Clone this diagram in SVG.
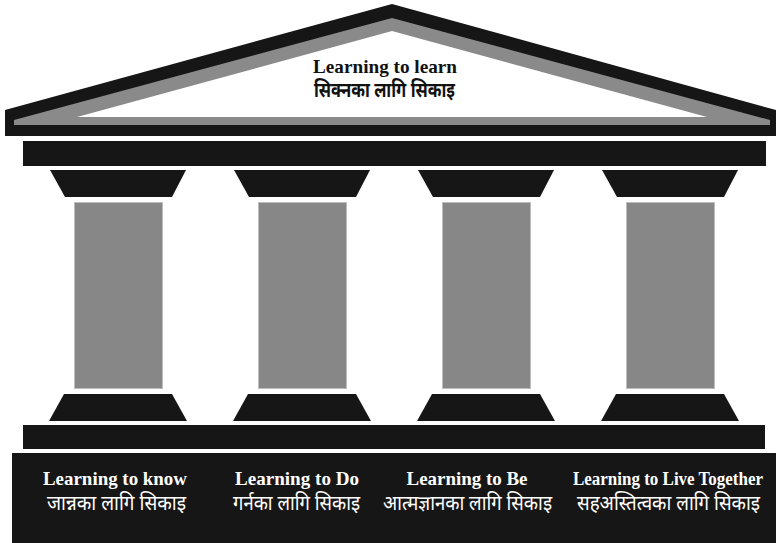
<svg xmlns="http://www.w3.org/2000/svg" xmlns:xlink="http://www.w3.org/1999/xlink" width="776" height="543" viewBox="0 0 776 543">
  <style>
    .blk { fill: #161616; }
    .gry { fill: #8a8a8a; }
    .shaft { fill: #878787; stroke: #bdbdbd; stroke-width: 1; }
    .en { font-family: "Liberation Serif", "Times New Roman", serif; font-weight: bold; font-size: 19px; text-anchor: middle; }
    .dv { font-family: "Noto Sans Devanagari", "Noto Serif Devanagari", "Lohit Devanagari", "Noto Sans", "DejaVu Sans", sans-serif; font-size: 20px; text-anchor: middle; }
    .w { fill: #ffffff; }
    .k { fill: #111111; }
  </style>
  <defs>
    <g id="column">
      <polygon class="blk" points="-68,170 68,170 54,197 -53,197"/>
      <rect class="shaft" x="-43.5" y="202.5" width="88" height="186"/>
      <polygon class="blk" points="-54,394 54,394 69,421 -69,421"/>
    </g>
  </defs>
  <rect width="776" height="543" fill="#ffffff"/>

  <g id="roof">
    <polygon class="blk" points="5,110 392,4 776,110 776,136 5,136"/>
    <polygon class="gry" points="14,120 392,18 770,120 770,125 14,125"/>
    <polygon fill="#ffffff" points="77,117 392,31 707,117"/>
    <text class="en k" x="385" y="73" textLength="144" lengthAdjust="spacingAndGlyphs">Learning to learn</text>
    <text class="dv k" x="384.5" y="97" font-weight="bold" textLength="141" lengthAdjust="spacingAndGlyphs">सिक्नका लागि सिकाइ</text>
  </g>

  <g id="architrave">
    <rect class="blk" x="23" y="141" width="743" height="25"/>
  </g>

  <g id="column1"><use xlink:href="#column" transform="translate(118,0)"/></g>
  <g id="column2"><use xlink:href="#column" transform="translate(302,0)"/></g>
  <g id="column3"><use xlink:href="#column" transform="translate(486,0)"/></g>
  <g id="column4"><use xlink:href="#column" transform="translate(670,0)"/></g>

  <g id="stylobate">
    <rect class="blk" x="23" y="425" width="742" height="24"/>
  </g>

  <g id="foundation">
    <rect class="blk" x="12" y="453" width="764" height="90"/>
  </g>

  <g id="label1">
    <text class="en w" x="115" y="485" textLength="144" lengthAdjust="spacingAndGlyphs">Learning to know</text>
    <text class="dv w" x="116.5" y="510" textLength="139" lengthAdjust="spacingAndGlyphs">जान्नका लागि सिकाइ</text>
  </g>
  <g id="label2">
    <text class="en w" x="297" y="485" textLength="124" lengthAdjust="spacingAndGlyphs">Learning to Do</text>
    <text class="dv w" x="296.5" y="510" textLength="127" lengthAdjust="spacingAndGlyphs">गर्नका लागि सिकाइ</text>
  </g>
  <g id="label3">
    <text class="en w" x="467" y="485" textLength="121" lengthAdjust="spacingAndGlyphs">Learning to Be</text>
    <text class="dv w" x="467.5" y="510" textLength="169" lengthAdjust="spacingAndGlyphs">आत्मज्ञानका लागि सिकाइ</text>
  </g>
  <g id="label4">
    <text class="en w" x="668" y="485" font-size="18" style="font-size:18px" textLength="190" lengthAdjust="spacingAndGlyphs">Learning to Live Together</text>
    <text class="dv w" x="668.5" y="510" textLength="183" lengthAdjust="spacingAndGlyphs">सहअस्तित्वका लागि सिकाइ</text>
  </g>
</svg>
